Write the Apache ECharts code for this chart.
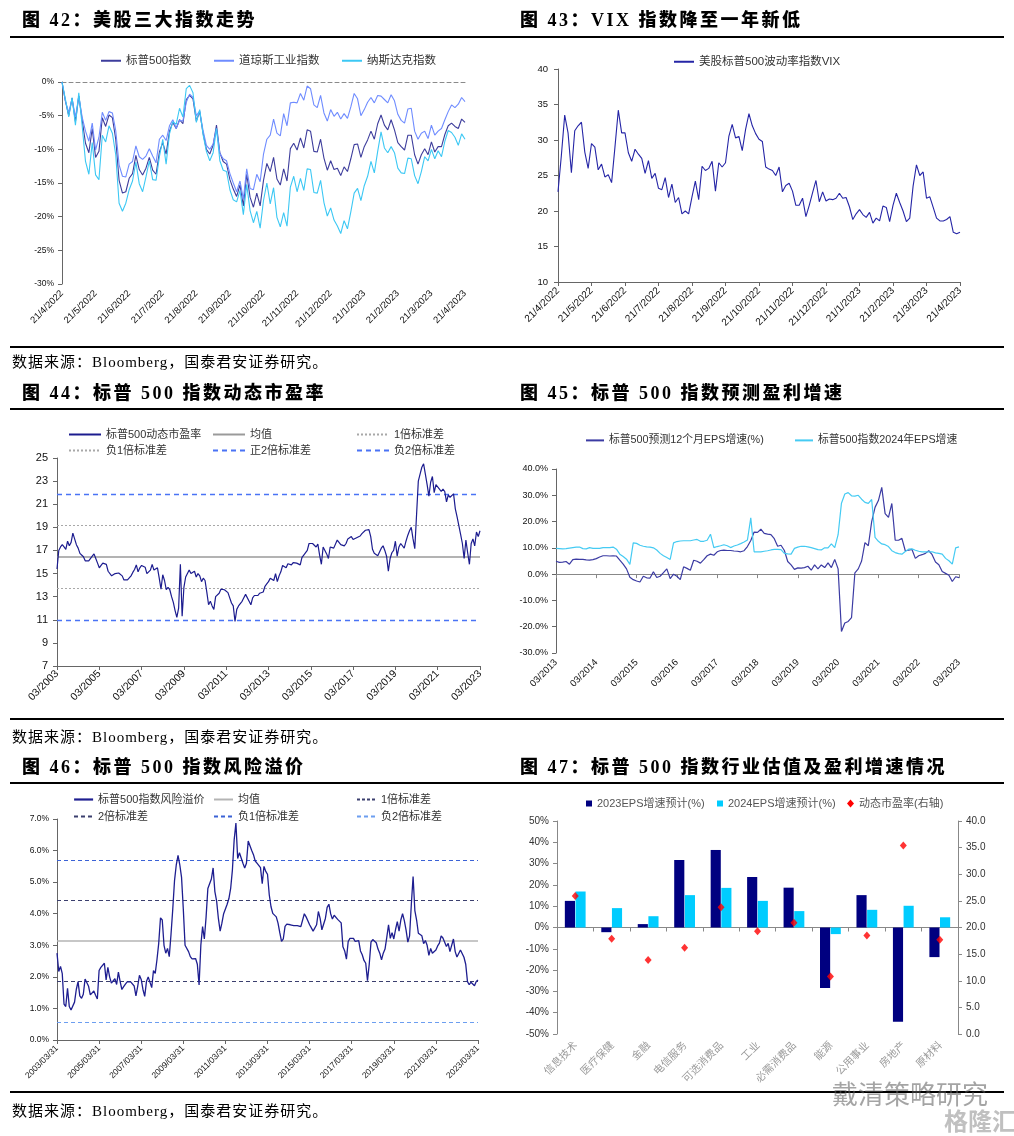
<!DOCTYPE html>
<html><head><meta charset="utf-8">
<script src="https://cdn.jsdelivr.net/npm/echarts/dist/echarts.min.js"></script>
<style>
html,body{margin:0;padding:0;background:#fff;}
#wrap{position:relative;width:1014px;height:1136px;overflow:hidden;background:#fff;}
#chart{position:absolute;left:0;top:0;width:1014px;height:1136px;}
.t{position:absolute;font-family:'Liberation Serif','Noto Sans CJK SC',serif;font-weight:900;font-size:18px;letter-spacing:2.5px;line-height:24px;color:#000;white-space:nowrap;}
.rule{position:absolute;left:10px;width:994px;height:2px;background:#000;}
.src{position:absolute;left:12px;font-family:'Liberation Serif','Noto Sans CJK SC',serif;font-size:15px;line-height:20px;letter-spacing:1px;color:#000;white-space:nowrap;}
.wm{position:absolute;font-family:'Noto Sans CJK SC',sans-serif;white-space:nowrap;}
</style></head>
<body>
<div id="wrap">
<div id="chart"></div>
<div class="t" style="left:22px;top:8px;">图 42：美股三大指数走势</div>
<div class="t" style="left:520px;top:8px;">图 43：VIX 指数降至一年新低</div>
<div class="rule" style="top:36px;"></div>
<div class="rule" style="top:346px;"></div>
<div class="src" style="top:352px;">数据来源：Bloomberg，国泰君安证券研究。</div>
<div class="t" style="left:22px;top:381px;">图 44：标普 500 指数动态市盈率</div>
<div class="t" style="left:520px;top:381px;">图 45：标普 500 指数预测盈利增速</div>
<div class="rule" style="top:408px;"></div>
<div class="rule" style="top:718px;"></div>
<div class="src" style="top:727px;">数据来源：Bloomberg，国泰君安证券研究。</div>
<div class="t" style="left:22px;top:755px;">图 46：标普 500 指数风险溢价</div>
<div class="t" style="left:520px;top:755px;">图 47：标普 500 指数行业估值及盈利增速情况</div>
<div class="rule" style="top:782px;"></div>
<div class="rule" style="top:1091px;"></div>
<div class="src" style="top:1101px;">数据来源：Bloomberg，国泰君安证券研究。</div>
<div class="wm" style="left:832px;top:1074px;font-size:26px;color:rgba(90,90,90,0.55);">戴清策略研究</div>
<div class="wm" style="left:944px;top:1102px;font-size:24px;font-weight:700;color:rgba(150,150,150,0.6);">格隆汇</div>
</div>
<script>
// ---------------- DATA ----------------
// Fig 42: cumulative change since 21/4/2022 (%), 10 samples per month
const ticks42 = ['21/4/2022','21/5/2022','21/6/2022','21/7/2022','21/8/2022','21/9/2022','21/10/2022','21/11/2022','21/12/2022','21/1/2023','21/2/2023','21/3/2023','21/4/2023'];
const sp500 = [0,-2.8,-5.0,-2.4,-5.9,-2.1,-5.6,-9.1,-10.5,-6.9,
-11.2,-10.3,-5.3,-6.6,-4.9,-5.3,-8.5,-14.6,-16.5,-16.3,
-14.3,-13.6,-10.9,-13.0,-13.8,-12.8,-11.2,-13.1,-13.7,-10.4,
-9.0,-10.7,-7.3,-6.0,-6.9,-5.6,-6.2,-2.6,-2.0,-2.5,
-5.8,-4.4,-7.6,-10.0,-10.7,-9.4,-6.4,-10.5,-11.8,-12.2,
-14.5,-15.9,-17.0,-15.3,-18.4,-13.7,-17.1,-18.6,-16.5,-18.4,
-14.6,-12.1,-13.3,-11.2,-14.4,-15.3,-12.9,-14.7,-9.9,-9.1,
-10.1,-8.3,-9.8,-7.1,-7.3,-10.3,-10.4,-8.5,-11.3,-13.1,
-11.7,-13.0,-12.8,-13.9,-12.6,-13.3,-11.4,-9.3,-9.2,-11.2,
-9.6,-8.6,-7.3,-8.5,-6.2,-4.9,-6.4,-7.1,-5.6,-7.1,
-9.0,-9.6,-10.1,-7.9,-7.9,-10.8,-12.2,-10.8,-9.9,-10.8,
-8.9,-10.4,-9.6,-9.6,-7.8,-6.5,-6.1,-6.6,-6.9,-5.5,-6.0];
const dowJones = [0,-2.8,-4.5,-2.5,-5.2,-2.1,-5.2,-7.3,-8.8,-6.1,
-10.1,-8.2,-4.5,-5.7,-4.4,-4.6,-7.2,-12.3,-14.0,-14.1,
-12.2,-11.8,-9.5,-11.1,-11.5,-11.0,-9.9,-11.0,-12.0,-8.5,
-7.9,-8.7,-6.5,-5.6,-6.9,-5.7,-5.8,-3.0,-1.8,-2.3,
-5.0,-4.3,-7.2,-9.4,-10.0,-9.2,-6.9,-10.6,-11.4,-11.7,
-13.6,-15.0,-16.3,-14.7,-17.4,-12.9,-15.8,-16.0,-13.7,-14.8,
-10.7,-8.5,-7.9,-5.5,-7.6,-8.0,-4.7,-6.5,-3.1,-3.0,
-3.1,-1.7,-2.7,-0.6,-1.0,-3.4,-3.8,-2.0,-4.6,-5.8,
-4.1,-5.1,-4.5,-5.5,-4.7,-5.4,-3.7,-1.7,-2.5,-5.0,
-4.1,-3.0,-2.3,-3.1,-2.0,-2.1,-2.6,-3.1,-1.9,-2.8,
-4.8,-5.7,-6.1,-4.0,-3.9,-7.3,-8.5,-7.6,-7.3,-8.4,
-6.4,-7.9,-7.3,-6.9,-5.6,-4.4,-3.4,-3.8,-3.3,-2.3,-2.9];
const nasdaq = [0,-2.5,-5.2,-2.3,-6.4,-1.6,-6.5,-11.8,-13.7,-9.0,
-13.8,-14.5,-7.9,-8.9,-6.5,-7.6,-10.8,-18.0,-19.2,-18.0,
-16.0,-14.7,-11.9,-15.1,-16.3,-14.1,-11.7,-14.5,-14.6,-11.1,
-8.5,-12.2,-7.7,-5.9,-6.3,-3.9,-5.2,-1.0,-0.5,-1.6,
-6.0,-4.1,-7.8,-10.3,-11.7,-10.5,-6.9,-11.7,-13.1,-13.3,
-16.0,-17.5,-17.8,-16.1,-19.7,-15.2,-19.1,-20.9,-19.2,-21.7,
-17.6,-15.0,-18.1,-15.7,-20.1,-21.5,-19.4,-21.4,-15.6,-14.0,
-16.3,-14.3,-16.1,-12.9,-13.0,-16.4,-16.5,-14.6,-17.9,-19.9,
-18.7,-20.5,-21.4,-22.5,-20.6,-21.8,-19.3,-16.5,-15.8,-17.6,
-15.4,-14.0,-11.8,-13.5,-10.3,-7.4,-9.8,-10.5,-9.6,-10.5,
-12.8,-13.5,-13.6,-11.3,-11.4,-13.9,-15.1,-13.3,-11.1,-11.7,
-10.0,-11.4,-10.2,-11.1,-8.8,-7.2,-7.5,-8.2,-9.4,-7.7,-8.5];

// Fig 43: VIX, same dates as fig 42
const vix = [22.7,27.8,33.5,31.0,25.4,31.3,32.0,32.5,28.3,26.0,
29.5,29.0,25.8,26.6,24.8,25.1,24.0,29.0,34.2,31.0,
31.0,28.2,27.0,28.7,28.0,27.4,25.3,27.1,24.6,25.3,
23.2,23.0,24.7,21.9,23.8,21.2,21.9,19.6,20.0,19.6,
22.0,24.2,21.6,26.3,25.7,26.0,27.0,22.8,26.8,26.2,
26.8,30.5,32.2,30.3,30.5,28.5,31.5,33.7,32.0,30.9,
30.1,29.8,26.2,25.9,25.7,25.0,26.2,22.7,23.6,23.9,
22.8,20.8,20.8,21.8,19.2,20.8,22.6,24.3,21.3,22.7,
21.4,21.7,21.6,21.8,22.5,21.8,21.9,20.6,18.8,19.6,
20.2,19.5,19.1,19.8,18.3,19.0,18.6,20.7,20.5,18.5,
20.8,22.5,21.2,20.0,18.5,19.0,23.5,26.5,25.0,25.5,
21.8,22.0,20.5,19.0,18.6,18.6,18.8,19.2,17.0,16.8,17.0];

// Fig 44: S&P 500 forward P/E, monthly 03/2003 - 03/2023
const ticks44 = ['03/2003','03/2005','03/2007','03/2009','03/2011','03/2013','03/2015','03/2017','03/2019','03/2021','03/2023'];
const peTicks = [7,9,11,13,15,17,19,21,23,25];
const peRatio = [15.4,17.0,17.3,17.5,17.3,17.1,17.8,17.4,17.7,18.5,18.0,17.5,
17.2,16.75,16.9,16.45,16.1,15.95,16.1,16.25,16.5,16.7,16.3,15.9,
15.5,15.7,15.9,16.0,15.8,15.2,15.25,14.8,14.9,15.0,15.1,15.05,
15.1,14.8,14.45,14.4,14.45,14.6,14.8,15.1,15.35,15.75,15.15,15.5,
15.7,15.8,15.55,15.0,15.0,15.3,15.8,15.3,15.4,15.5,14.6,13.65,
14.9,14.4,13.6,13.8,13.6,13.0,12.5,11.8,11.2,12.0,15.8,11.3,
13.8,14.7,14.6,15.3,15.0,15.0,15.2,14.7,15.0,14.8,14.3,14.6,
14.4,13.4,12.3,12.6,12.2,11.9,13.0,12.9,13.3,13.65,13.6,13.6,
13.6,13.35,12.9,12.45,12.2,10.85,11.9,12.2,12.3,12.6,12.9,13.2,
13.35,12.6,12.3,12.9,13.1,13.1,13.1,13.3,13.2,13.4,13.9,14.1,
14.3,14.6,14.5,14.4,15.0,14.3,14.8,15.15,15.7,15.6,15.5,15.85,
15.8,15.75,15.95,15.8,15.9,16.0,15.75,16.4,16.6,16.75,17.0,17.6,
17.45,17.6,17.45,17.3,17.55,16.6,15.8,17.3,17.0,16.7,16.3,17.3,
17.2,17.2,17.3,17.9,18.0,17.5,17.35,17.4,17.6,18.0,18.15,18.2,
17.95,18.05,18.1,18.1,18.25,18.45,18.6,18.75,18.8,18.8,18.2,17.1,
16.75,16.6,16.55,16.5,17.2,17.4,17.0,16.5,15.2,16.3,16.8,17.0,
17.8,16.5,17.3,17.6,17.6,17.2,17.8,18.3,18.7,19.0,18.0,17.15,
17.1,23.0,23.6,24.2,24.5,23.6,22.7,21.7,22.9,23.4,22.0,22.7,
22.55,22.3,22.1,22.3,22.1,21.2,21.8,21.6,21.6,21.9,20.6,19.9,
20.0,18.4,17.6,16.3,17.9,16.8,15.8,17.6,18.0,17.4,18.6,18.2,18.7];
const peRefs = {mean:16.45, up1:19.17, dn1:13.73, up2:21.9, dn2:10.97};

// Fig 45: EPS growth (%), monthly 03/2013 - 03/2023
const ticks45 = ['03/2013','03/2014','03/2015','03/2016','03/2017','03/2018','03/2019','03/2020','03/2021','03/2022','03/2023'];
const eps12m = [4.9,4.5,4.6,4.8,3.8,5.5,5.7,5.6,5.6,5.4,
5.3,5.5,5.9,6.5,7.0,7.0,6.9,7.0,6.9,5.3,
3.8,2.0,-1.2,-2.1,-2.6,-3.0,-0.8,-1.4,-1.5,0.9,
-1.3,-0.8,0.6,2.0,-1.7,0.0,-0.8,-2.1,2.8,2.2,
1.5,5.3,4.9,4.2,5.5,7.0,7.6,7.2,8.5,9.0,
9.1,9.0,9.0,8.8,8.7,8.5,8.9,10.5,12.8,16.0,
15.9,17.1,15.5,15.2,15.0,13.5,10.6,11.0,9.0,4.8,
3.5,1.8,2.4,2.3,2.5,3.0,1.5,3.5,2.0,3.5,
2.5,4.3,2.5,5.6,2.0,-21.8,-18.6,-18.0,-16.5,0.5,
2.0,5.0,12.0,10.8,20.0,25.4,28.0,33.0,23.0,21.6,
26.9,12.9,12.9,13.6,8.9,9.1,9.4,6.0,7.0,7.4,
7.9,8.9,7.4,4.6,3.6,1.0,0.3,-0.4,-2.8,-1.0,-1.3];
const eps2024 = [9.8,9.7,9.6,9.7,9.9,10.1,10.3,10.3,9.7,9.6,
10.1,9.8,9.8,9.8,10.1,10.1,10.1,10.3,9.5,7.6,
6.7,5.7,3.7,11.9,11.7,11.0,10.6,10.4,10.3,10.0,
9.2,7.9,7.0,6.3,5.6,11.9,12.4,12.6,12.7,12.7,
12.7,13.0,13.2,12.5,12.5,12.9,15.2,10.1,10.5,10.8,
11.2,10.8,10.1,10.7,11.1,11.6,12.2,13.0,21.4,8.5,
8.5,8.5,8.7,8.9,9.2,9.4,9.4,9.3,7.9,7.7,
7.6,9.8,10.3,10.6,10.6,10.4,10.1,9.7,9.3,9.2,
10.0,10.0,11.5,10.1,15.0,27.0,30.5,31.0,29.8,29.7,
30.0,28.5,27.3,26.9,28.4,14.0,12.5,11.5,11.2,10.5,
8.9,8.2,7.8,7.6,8.6,9.5,9.6,9.1,8.7,8.5,
8.5,8.5,8.5,8.1,7.9,7.6,6.0,5.1,3.8,10.0,10.4];

// Fig 46: equity risk premium (%), monthly 2003/03 - 2023/03
const ticks46 = ['2003/03/31','2005/03/31','2007/03/31','2009/03/31','2011/03/31','2013/03/31','2015/03/31','2017/03/31','2019/03/31','2021/03/31','2023/03/31'];
const riskPremium = [2.75,2.17,2.33,2.10,1.14,1.06,1.64,1.06,0.95,0.90,1.20,1.60,
1.85,1.40,1.32,1.45,1.93,1.92,1.70,1.43,1.38,1.55,1.42,1.30,
2.20,2.30,2.36,2.43,1.90,2.30,2.00,1.80,1.74,1.94,1.76,2.15,
1.85,1.60,1.69,1.77,1.84,1.88,1.84,1.80,1.71,1.40,1.70,2.05,
1.92,1.60,1.38,1.85,2.00,2.00,1.66,2.20,2.11,2.55,3.07,3.87,
3.80,3.00,2.75,2.90,2.64,3.35,4.15,5.05,5.55,5.85,5.55,5.15,
4.15,3.00,3.01,2.80,2.64,2.57,2.55,2.58,2.40,1.74,3.00,3.59,
3.20,3.90,4.80,4.85,5.10,5.45,4.70,4.40,3.85,3.45,3.70,4.00,
4.06,4.30,4.48,4.80,5.39,6.34,6.87,5.75,5.93,5.90,5.60,5.45,
5.60,6.30,6.30,6.00,5.87,5.67,5.60,5.60,5.46,4.95,5.50,5.34,
5.25,4.60,4.22,4.01,3.96,3.90,3.70,3.40,3.12,3.20,3.60,3.67,
3.73,3.65,3.68,3.62,3.68,3.62,3.59,3.59,3.61,4.00,3.90,3.78,
3.65,3.55,3.45,3.49,3.65,4.07,3.85,3.49,3.55,3.85,4.20,4.30,
4.00,3.83,3.95,3.95,3.82,3.77,3.71,2.95,2.82,2.56,3.12,3.22,
3.22,3.22,3.12,3.10,3.15,2.82,2.70,2.52,2.43,1.88,2.40,3.10,
3.18,3.12,3.08,2.88,2.75,2.54,2.75,2.88,3.25,3.65,3.22,3.40,
3.20,3.50,3.75,3.45,3.80,4.00,3.78,3.48,3.10,3.30,4.30,5.18,
4.10,3.80,3.38,3.33,3.30,3.05,3.15,3.00,2.68,2.90,2.75,2.75,
2.85,2.98,3.07,3.30,3.23,3.22,2.96,3.06,2.80,2.85,3.20,2.80,
2.63,2.65,2.85,2.90,2.62,2.40,1.85,1.75,1.83,1.82,1.72,1.85,1.90];
const rpRefs = {mean:3.13, sd1:4.42, sd2:1.87, neg1:5.69, neg2:0.57};

// Fig 47: sectors
const sectors = ['信息技术','医疗保健','金融','电信服务','可选消费品','工业','必需消费品','能源','公用事业','房地产','原材料'];
const epsGrowth2023 = [12.5,-2.2,1.6,31.7,36.4,23.7,18.7,-28.4,15.2,-44.2,-13.9];
const epsGrowth2024 = [16.9,9.1,5.3,15.2,18.6,12.5,7.7,-3.1,8.3,10.2,4.8];
const sectorPE = [25.9,17.9,13.9,16.2,23.8,19.3,20.9,10.8,18.5,35.4,17.7];

// ---------------- CHART ----------------
const FONT = "'Liberation Sans','Noto Sans CJK SC',sans-serif";
const idx = arr => arr.map((_, i) => String(i));
const c42 = idx(sp500), c44 = idx(peRatio), c45 = idx(eps12m), c46 = idx(riskPremium);

const grid = [
  {left:62, top:82, width:403, height:202},
  {left:558, top:69, width:402, height:213},
  {left:57, top:458, width:423, height:208},
  {left:556, top:469, width:403, height:184},
  {left:57, top:819, width:421, height:221},
  {left:557, top:821, width:401, height:213}
].map(g => Object.assign({containLabel:false, outerBoundsMode:'none', show:false}, g));

function vAxis(gridIndex, min, max, interval, fmt, size, extra) {
  return Object.assign({
    type:'value', gridIndex, min, max, interval,
    axisLine:{show:true, onZero:false, lineStyle:{color:'#666', width:1}},
    axisTick:{show:true, length:4, inside:false, lineStyle:{color:'#666'}},
    splitLine:{show:false},
    axisLabel:{formatter:fmt, fontSize:size, color:'#111', fontFamily:FONT, margin:8}
  }, extra || {});
}
function lblAxis(gridIndex, data, ticks, step, size, margin, extra) {
  return Object.assign({
    type:'category', gridIndex, data, boundaryGap:false, position:'bottom',
    axisLine:{show:false, onZero:false}, axisTick:{show:false}, splitLine:{show:false},
    axisLabel:{interval:step - 1, rotate:45, fontSize:size, color:'#111', fontFamily:FONT, margin,
      formatter:(v, i) => ticks[Math.round(i / step)] || ''}
  }, extra || {});
}
const solidAxis = c => ({show:true, onZero:false, lineStyle:{color:c, width:1}});

const xAxis = [
  {type:'category', gridIndex:0, data:c42, boundaryGap:false,
   axisLine:{show:true, onZero:true, lineStyle:{color:'#8a8a8a', type:[4,3], width:1}},
   axisTick:{show:false}, axisLabel:{show:false}, splitLine:{show:false}},
  lblAxis(0, c42, ticks42, 10, 9.5, 8),
  lblAxis(1, c42, ticks42, 10, 10, 7, {axisLine:solidAxis('#666'), axisTick:{show:true, interval:9, length:4, lineStyle:{color:'#666'}}}),
  lblAxis(2, c44, ticks44, 24, 10.5, 6, {axisLine:solidAxis('#666'), axisTick:{show:true, interval:23, length:4, lineStyle:{color:'#666'}}}),
  {type:'category', gridIndex:3, data:c45, boundaryGap:false,
   axisLine:{show:true, onZero:true, lineStyle:{color:'#888', width:1}},
   axisTick:{show:true, interval:11, length:4, lineStyle:{color:'#888'}}, axisLabel:{show:false}, splitLine:{show:false}},
  lblAxis(3, c45, ticks45, 12, 9.5, 8),
  lblAxis(4, c46, ticks46, 24, 8.5, 7, {axisLine:solidAxis('#666'), axisTick:{show:true, interval:23, length:4, lineStyle:{color:'#666'}}}),
  {type:'category', gridIndex:5, data:sectors,
   axisLine:{show:true, onZero:true, lineStyle:{color:'#888', width:1}},
   axisTick:{show:true, interval:0, alignWithLabel:false, length:4, lineStyle:{color:'#888'}},
   axisLabel:{show:false}, splitLine:{show:false}},
  {type:'category', gridIndex:5, data:sectors, position:'bottom',
   axisLine:{show:false, onZero:false}, axisTick:{show:false}, splitLine:{show:false},
   axisLabel:{interval:0, rotate:45, fontSize:10.5, color:'#9a9a9a', fontFamily:"'Noto Sans CJK SC',sans-serif", margin:9}}
];

const pct0 = v => v + '%';
const yAxis = [
  vAxis(0, -30, 0, 5, pct0, 8.5),
  vAxis(1, 10, 40, 5, '{value}', 9.5, {axisLabel:{fontSize:9.5, color:'#111', fontFamily:FONT, margin:10}}),
  vAxis(2, 7, 25, 2, '{value}', 11, {
    axisLabel:{fontSize:11, color:'#111', fontFamily:FONT, margin:9, customValues:peTicks},
    axisTick:{show:true, length:4, lineStyle:{color:'#666'}, customValues:peTicks}}),
  vAxis(3, -30, 40, 10, v => v.toFixed(1) + '%', 9),
  vAxis(4, 0, 7, 1, v => v.toFixed(1) + '%', 8.5),
  vAxis(5, -50, 50, 10, pct0, 10, {axisLine:{show:true, onZero:false, lineStyle:{color:'#888'}}, axisTick:{show:true, length:4, lineStyle:{color:'#888'}},
    axisLabel:{formatter:pct0, fontSize:10, color:'#333', fontFamily:FONT, margin:8}}),
  vAxis(5, 0, 40, 5, v => v.toFixed(1), 10, {position:'right', axisLine:{show:true, onZero:false, lineStyle:{color:'#888'}}, axisTick:{show:true, length:4, lineStyle:{color:'#888'}},
    axisLabel:{formatter:v => v.toFixed(1), fontSize:10, color:'#333', fontFamily:FONT, margin:8}})
];

function L(name, data, color, width, xi, yi, extra) {
  return Object.assign({type:'line', name, data, xAxisIndex:xi, yAxisIndex:yi, symbol:'none', showSymbol:false,
    lineStyle:{color, width}, itemStyle:{color}, silent:true, emphasis:{disabled:true}, animation:false}, extra || {});
}
function dummy(name, color, type, width, xi, yi) {
  return {type:'line', name, data:[], xAxisIndex:xi, yAxisIndex:yi, symbol:'none',
    lineStyle:{color, type, width}, itemStyle:{color}, silent:true, animation:false};
}
function ml(value, color, type, width) {
  return {yAxis:value, lineStyle:{color, type, width}};
}
const markLineBase = items => ({symbol:'none', silent:true, label:{show:false}, emphasis:{disabled:true}, animation:false, data:items});

const C = {
  sp:'#3d3d9c', dow:'#6f8cff', nas:'#3cc8f4', vix:'#2525a6',
  pe:'#1c1c8f', grayL:'#a8a8a8', grayM:'#9a9a9a', blueD:'#4a73f5',
  e12:'#3b3ba3', e24:'#45cbf3',
  rp:'#1e1e90', rpDark:'#3b3f6e', rpBlue:'#3b62d6', rpLight:'#6c9ef0',
  bar23:'#000080', bar24:'#00ccff', red:'#ff0000'
};

const series = [
  L('标普500指数', sp500, C.sp, 1.1, 1, 0),
  L('道琼斯工业指数', dowJones, C.dow, 1.1, 1, 0),
  L('纳斯达克指数', nasdaq, C.nas, 1.1, 1, 0),
  L('美股标普500波动率指数VIX', vix, C.vix, 1.1, 2, 1),
  L('标普500动态市盈率', peRatio, C.pe, 1.2, 3, 2, {z:5, markLine:markLineBase([
      ml(peRefs.mean, C.grayM, 'solid', 1.5),
      ml(peRefs.up1, C.grayL, [2,2], 1),
      ml(peRefs.dn1, C.grayL, [2,2], 1),
      ml(peRefs.up2, C.blueD, [5,4], 1.3),
      ml(peRefs.dn2, C.blueD, [5,4], 1.3)])}),
  dummy('均值', C.grayM, 'solid', 1.5, 3, 2),
  dummy('1倍标准差', C.grayL, [2,2], 1, 3, 2),
  dummy('负1倍标准差', C.grayL, [2,2], 1, 3, 2),
  dummy('正2倍标准差', C.blueD, [5,4], 1.3, 3, 2),
  dummy('负2倍标准差', C.blueD, [5,4], 1.3, 3, 2),
  L('标普500预测12个月EPS增速(%)', eps12m, C.e12, 1.2, 4, 3),
  L('标普500指数2024年EPS增速', eps2024, C.e24, 1.2, 4, 3),
  L('标普500指数风险溢价', riskPremium, C.rp, 1.3, 6, 4, {z:5, markLine:markLineBase([
      ml(rpRefs.mean, '#b4b4b4', 'solid', 1.6),
      ml(rpRefs.sd1, C.rpDark, [4,3], 1),
      ml(rpRefs.sd2, C.rpDark, [4,3], 1),
      ml(rpRefs.neg1, C.rpBlue, [4,3], 1),
      ml(rpRefs.neg2, C.rpLight, [4,3], 1)])}),
  dummy('均值 ', '#b4b4b4', 'solid', 1.6, 6, 4),
  dummy('1倍标准差 ', C.rpDark, [3,2], 1, 6, 4),
  dummy('2倍标准差', C.rpDark, [4,3], 1, 6, 4),
  dummy('负1倍标准差 ', C.rpBlue, [4,3], 1, 6, 4),
  dummy('负2倍标准差 ', C.rpLight, [4,3], 1, 6, 4),
  {type:'bar', name:'2023EPS增速预计(%)', data:epsGrowth2023, xAxisIndex:7, yAxisIndex:5, barGap:'5%', barCategoryGap:'43%',
   itemStyle:{color:C.bar23}, silent:true, animation:false},
  {type:'bar', name:'2024EPS增速预计(%)', data:epsGrowth2024, xAxisIndex:7, yAxisIndex:5, barGap:'5%', barCategoryGap:'43%',
   itemStyle:{color:C.bar24}, silent:true, animation:false},
  {type:'scatter', name:'动态市盈率(右轴)', data:sectorPE, xAxisIndex:7, yAxisIndex:6, symbol:'diamond', symbolSize:[7,8],
   itemStyle:{color:C.red}, silent:true, animation:false, z:10}
];

function LG(name, left, cy, w, extra) {
  return Object.assign({data:[name], left, top:cy - 7, orient:'horizontal', padding:0, itemWidth:w, itemHeight:10,
    itemGap:0, selectedMode:false, itemStyle:{opacity:0, borderWidth:0},
    textStyle:{fontSize:11, color:'#333', fontFamily:FONT}}, extra || {});
}
const big = {textStyle:{fontSize:11.5, color:'#333', fontFamily:FONT}};
const mk = (ic, h) => ({itemHeight:h, icon:ic, itemStyle:{opacity:1, borderWidth:0}, textStyle:{fontSize:11, color:'#555', fontFamily:FONT}});
const legend = [
  LG('标普500指数', 100, 62, 20, big),
  LG('道琼斯工业指数', 213, 62, 20, big),
  LG('纳斯达克指数', 341, 62, 20, big),
  LG('美股标普500波动率指数VIX', 673, 63, 20, big),
  LG('标普500动态市盈率', 68, 436, 32),
  LG('均值', 212, 436, 32),
  LG('1倍标准差', 356, 436, 32),
  LG('负1倍标准差', 68, 452, 32),
  LG('正2倍标准差', 212, 452, 32),
  LG('负2倍标准差', 356, 452, 32),
  LG('标普500预测12个月EPS增速(%)', 585, 442, 18, {textStyle:{fontSize:10.8, color:'#333', fontFamily:FONT}}),
  LG('标普500指数2024年EPS增速', 794, 442, 18, {textStyle:{fontSize:10.8, color:'#333', fontFamily:FONT}}),
  LG('标普500指数风险溢价', 73, 801, 19, {lineStyle:{width:2.2}}),
  LG('均值 ', 213, 801, 19, {lineStyle:{width:2}}),
  LG('1倍标准差 ', 356, 801, 19),
  LG('2倍标准差', 73, 818, 19),
  LG('负1倍标准差 ', 213, 818, 19),
  LG('负2倍标准差 ', 356, 818, 19),
  LG('2023EPS增速预计(%)', 586, 805, 6, mk('rect', 6)),
  LG('2024EPS增速预计(%)', 717, 805, 6, mk('rect', 6)),
  LG('动态市盈率(右轴)', 847, 805, 7, mk('diamond', 8))
];
legend.forEach(l => { l.formatter = n => n.trim(); });

const chart = echarts.init(document.getElementById('chart'), null, {renderer:'canvas'});
chart.setOption({
  animation:false,
  backgroundColor:'transparent',
  textStyle:{fontFamily:FONT},
  grid, xAxis, yAxis, series, legend,
  tooltip:{show:false}
});
</script>
</body></html>
